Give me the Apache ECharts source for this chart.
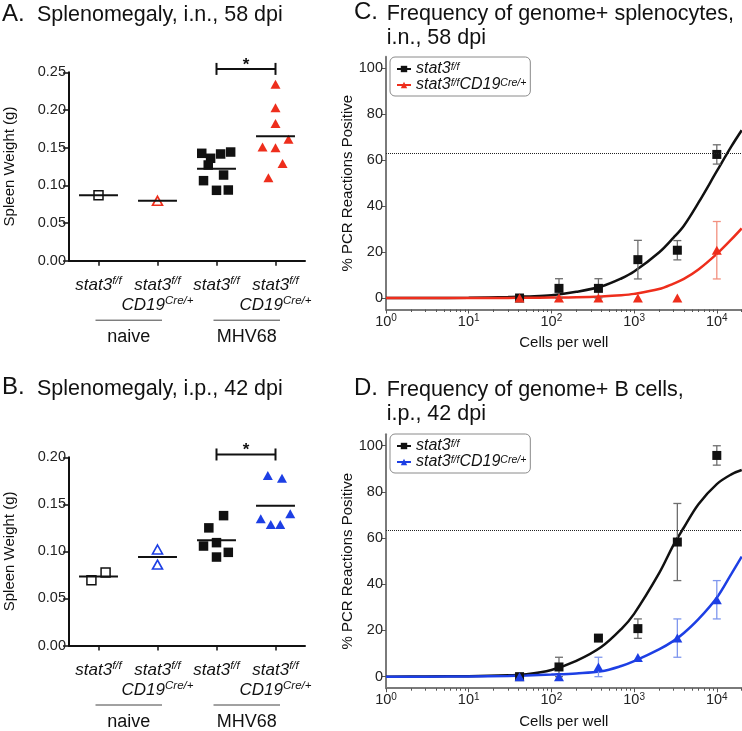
<!DOCTYPE html>
<html><head><meta charset="utf-8">
<script src="https://cdn.jsdelivr.net/npm/echarts@6/dist/echarts.min.js"></script>
<style>html,body{margin:0;padding:0;background:#fff}#c{width:742px;height:731px}</style>
</head><body><div id="c"></div>
<script>
const FONT = '"Liberation Sans", Arial, Helvetica, sans-serif';
const RED = '#ee2e1c', BLUE = '#1d3fe4', BLACK = '#111';
const RED_ERR = '#f2907f', BLUE_ERR = '#7f97ee', BLACK_ERR = '#6e6e6e';

// ---- Panels A / B (spleen weight) ----
const categories = ['stat3 f/f', 'stat3 f/f CD19 Cre/+', 'stat3 f/f', 'stat3 f/f CD19 Cre/+'];
const groupNames = ['naive', 'MHV68'];
const groupSpans = [[1, 2], [3, 4]];

const A_ffNaive = [0.087];            const A_ffNaiveOff = [0];
const A_creNaive = [0.0795];          const A_creNaiveOff = [0];
const A_ffMHV = [0.1425, 0.1442, 0.1359, 0.1416, 0.127, 0.1137, 0.1062, 0.0934, 0.0938];
const A_ffMHVOff = [-0.25, 0.24, -0.10, 0.07, -0.14, 0.12, -0.22, 0, 0.20];
const A_creMHV = [0.234, 0.203, 0.182, 0.151, 0.150, 0.161, 0.129, 0.110];
const A_creMHVOff = [0, 0, 0, -0.22, 0, 0.22, 0.12, -0.12];
const A_sig = [[3, 4, 0.2545]];

const B_ffNaive = [0.0694, 0.0775];   const B_ffNaiveOff = [-0.12, 0.12];
const B_creNaive = [0.102, 0.086];    const B_creNaiveOff = [0, 0];
const B_ffMHV = [0.138, 0.125, 0.1057, 0.1093, 0.099, 0.094];
const B_ffMHVOff = [0.12, -0.13, -0.22, 0, 0.20, 0];
const B_creMHV = [0.1806, 0.1778, 0.140, 0.1347, 0.1287, 0.1287];
const B_creMHVOff = [-0.13, 0.11, 0.25, -0.25, -0.08, 0.08];
const B_sig = [[3, 4, 0.203]];

// ---- Panels C / D (limiting dilution) ----
const cellsPerWell = [41.2, 123.5, 370.4, 1111.1, 3333.3, 10000];
const C_ff = [0, 4.2, 4.2, 16.7, 20.8, 62.5];   const C_ffErr = [0, 4.2, 4.2, 8.4, 4.2, 4.2];
const C_cre = [0, 0, 0, 0, 0, 20.8];            const C_creErr = [0, 0, 0, 0, 0, 12.5];
const D_ff = [0, 4.2, 16.7, 20.8, 58.3, 95.8];  const D_ffErr = [0, 4.2, 0, 4.2, 16.7, 4.2];
const D_cre = [0, 0, 4.2, 8.3, 16.7, 33.3];     const D_creErr = [0, 0, 4.2, 0, 8.3, 8.3];

const curveX =    [1, 3, 10, 30, 50, 100, 200, 400, 700, 1000, 2000, 3000, 4000, 6000, 10000, 15000, 20000];
const C_ffFit =   [0, 0, 0.1, 0.4, 0.7, 1.2, 2.7, 5.0, 8.5, 11.5, 19.8, 26.3, 31.5, 41.5, 55.2, 66.0, 73.0];
const C_creFit =  [0, 0, 0, 0.05, 0.1, 0.2, 0.35, 0.7, 1.2, 1.8, 3.9, 6.3, 8.3, 12.4, 19.2, 25.5, 30.3];
const D_ffFit =   [0, 0.1, 0.2, 0.6, 1.0, 2.9, 6.8, 12.8, 20.6, 27.2, 44.7, 57.1, 64.6, 74.7, 83.4, 87.6, 89.5];
const D_creFit =  [0, 0, 0.1, 0.3, 0.5, 0.9, 1.4, 2.3, 4.6, 6.7, 11.8, 15.5, 18.9, 24.9, 34.2, 44.5, 52.0];
const threshold = 63.2;

const yTicksPCR = [0, 20, 40, 60, 80, 100];
const decadeTicks = [0, 1, 2, 3, 4];
const minorTicks = [];
for (let d = 0; d <= 4; d++) for (let m = 2; m <= 9; m++) { const v = Math.pow(10, d) * m; if (v <= 20000) minorTicks.push(Math.log10(v)); }

// ---- helpers ----
function pts(cat, vals, offs) { return vals.map((v, i) => [cat + offs[i], v]); }
function mean(a) { return a.reduce((s, v) => s + v, 0) / a.length; }
function catLabel(v) {
  const c = categories[Math.round(v) - 1];
  return c.indexOf('CD19') >= 0 ? '{it|stat3}{sup|f/f}\n{it|CD19}{sup|Cre/+}' : '{it|stat3}{sup|f/f}';
}
const catRich = {
  it: { fontFamily: FONT, fontStyle: 'italic', fontSize: 17, lineHeight: 20, color: BLACK },
  sup: { fontFamily: FONT, fontStyle: 'italic', fontSize: 11.5, lineHeight: 12, verticalAlign: 'top', color: BLACK }
};
function errData(xs, m, e) {
  const out = [];
  xs.forEach((x, i) => { if (e[i] > 0) out.push([x, m[i] - e[i], m[i] + e[i]]); });
  return out;
}
function errRender(color) {
  return function (params, api) {
    const x = api.value(0);
    const pT = api.coord([x, api.value(2)]), pB = api.coord([x, api.value(1)]);
    const w = 4, st = { stroke: color, lineWidth: 1.3 };
    return { type: 'group', children: [
      { type: 'line', shape: { x1: pT[0], y1: pT[1], x2: pB[0], y2: pB[1] }, style: st },
      { type: 'line', shape: { x1: pT[0] - w, y1: pT[1], x2: pT[0] + w, y2: pT[1] }, style: st },
      { type: 'line', shape: { x1: pB[0] - w, y1: pB[1], x2: pB[0] + w, y2: pB[1] }, style: st }
    ] };
  };
}
function meanRender(params, api) {
  const c = api.value(0), m = api.value(1);
  const p1 = api.coord([c - 0.33, m]), p2 = api.coord([c + 0.33, m]);
  return { type: 'line', shape: { x1: p1[0], y1: p1[1], x2: p2[0], y2: p2[1] }, style: { stroke: BLACK, lineWidth: 2 } };
}
function sigRender(params, api) {
  const p1 = api.coord([api.value(0), api.value(2)]), p2 = api.coord([api.value(1), api.value(2)]);
  const st = { stroke: BLACK, lineWidth: 2 };
  return { type: 'group', children: [
    { type: 'line', shape: { x1: p1[0], y1: p1[1], x2: p2[0], y2: p2[1] }, style: st },
    { type: 'line', shape: { x1: p1[0], y1: p1[1] - 6, x2: p1[0], y2: p1[1] + 6 }, style: st },
    { type: 'line', shape: { x1: p2[0], y1: p2[1] - 6, x2: p2[0], y2: p2[1] + 6 }, style: st },
    { type: 'text', style: { text: '*', x: (p1[0] + p2[0]) / 2, y: p1[1] - 4, align: 'center', verticalAlign: 'middle', font: 'bold 17px ' + FONT, fill: BLACK } }
  ] };
}
function groupRender(params, api) {
  const p1 = api.coord([api.value(0), 0]), p2 = api.coord([api.value(1), 0]);
  const x1 = p1[0] - 3, x2 = p2[0] + 4.5, y = p1[1] + 59.5;
  return { type: 'group', children: [
    { type: 'line', shape: { x1: x1, y1: y, x2: x2, y2: y }, style: { stroke: '#444', lineWidth: 1 } },
    { type: 'text', style: { text: groupNames[params.dataIndex], x: (x1 + x2) / 2, y: y + 17, align: 'center', verticalAlign: 'middle', font: '18px ' + FONT, fill: BLACK } }
  ] };
}

function weightPanel(xi, yi, ffN, ffNo, crN, crNo, ffM, ffMo, crM, crMo, sig, col) {
  return [
    { type: 'scatter', xAxisIndex: xi, yAxisIndex: yi, symbol: 'rect', symbolSize: 9, data: pts(1, ffN, ffNo),
      itemStyle: { color: '#fff', borderColor: BLACK, borderWidth: 1.5, opacity: 1 }, z: 3 },
    { type: 'scatter', xAxisIndex: xi, yAxisIndex: yi, symbol: 'triangle', symbolSize: [10, 9], data: pts(2, crN, crNo),
      itemStyle: { color: '#fff', borderColor: col, borderWidth: 1.6, opacity: 1 }, z: 3 },
    { type: 'scatter', xAxisIndex: xi, yAxisIndex: yi, symbol: 'rect', symbolSize: 9.5, data: pts(3, ffM, ffMo),
      itemStyle: { color: BLACK, opacity: 1 }, z: 3 },
    { type: 'scatter', xAxisIndex: xi, yAxisIndex: yi, symbol: 'triangle', symbolSize: [10, 9], data: pts(4, crM, crMo),
      itemStyle: { color: col, opacity: 1 }, z: 3 },
    { type: 'custom', xAxisIndex: xi, yAxisIndex: yi, renderItem: meanRender, clip: false, z: 4,
      data: [[1, mean(ffN)], [2, mean(crN)], [3, mean(ffM)], [4, mean(crM)]] },
    { type: 'custom', xAxisIndex: xi, yAxisIndex: yi, renderItem: sigRender, clip: false, z: 4, data: sig },
    { type: 'custom', xAxisIndex: xi, yAxisIndex: yi, renderItem: groupRender, clip: false, z: 4, data: groupSpans }
  ];
}

function pcrPanel(xi, yi, ff, ffErr, cre, creErr, ffFit, creFit, col, colErr, nFF, nCre) {
  const xy = (xs, ys) => xs.map((x, i) => [x, ys[i]]);
  return [
    { type: 'line', name: nFF, xAxisIndex: xi, yAxisIndex: yi, data: xy(curveX, ffFit), smooth: 0.35,
      symbol: 'rect', showSymbol: false, lineStyle: { color: BLACK, width: 2.5 }, itemStyle: { color: BLACK }, z: 2,
      markLine: { silent: true, symbol: 'none', label: { show: false },
        lineStyle: { type: 'dotted', color: '#222', width: 1 }, data: [{ yAxis: threshold }] } },
    { type: 'line', name: nCre, xAxisIndex: xi, yAxisIndex: yi, data: xy(curveX, creFit), smooth: 0.35,
      symbol: 'triangle', showSymbol: false, lineStyle: { color: col, width: 2.5 }, itemStyle: { color: col }, z: 2 },
    { type: 'custom', xAxisIndex: xi, yAxisIndex: yi, renderItem: errRender(BLACK_ERR), data: errData(cellsPerWell, ff, ffErr), z: 3 },
    { type: 'custom', xAxisIndex: xi, yAxisIndex: yi, renderItem: errRender(colErr), data: errData(cellsPerWell, cre, creErr), z: 3 },
    { type: 'scatter', name: nFF, xAxisIndex: xi, yAxisIndex: yi, symbol: 'rect', symbolSize: 9, data: xy(cellsPerWell, ff),
      itemStyle: { color: BLACK, opacity: 1 }, z: 4, clip: false },
    { type: 'scatter', name: nCre, xAxisIndex: xi, yAxisIndex: yi, symbol: 'triangle', symbolSize: [10, 9], data: xy(cellsPerWell, cre),
      itemStyle: { color: col, opacity: 1 }, z: 5, clip: false }
  ];
}

const grids = [
  { left: 69, top: 72.3, width: 236, height: 188.4 },
  { left: 69, top: 457.3, width: 236, height: 188.2 },
  { left: 386, top: 56.8, width: 355.7, height: 252.7 },
  { left: 386, top: 434.2, width: 355.7, height: 254 }
];

function catXAxis(gi) {
  return { type: 'value', gridIndex: gi, min: 0.5, max: 4.5, splitLine: { show: false },
    axisLine: { lineStyle: { color: BLACK, width: 2 } },
    axisTick: { customValues: [1, 2, 3, 4], length: 5, lineStyle: { color: BLACK, width: 1.5 } },
    axisLabel: { customValues: [1, 2, 3, 4], formatter: catLabel, rich: catRich, margin: 14.5 } };
}
function weightYAxis(gi, max) {
  return { type: 'value', gridIndex: gi, min: 0, max: max, interval: 0.05,
    name: 'Spleen Weight (g)', nameLocation: 'middle', nameGap: 52,
    nameTextStyle: { fontFamily: FONT, fontSize: 15, color: BLACK },
    splitLine: { show: false },
    axisLine: { show: true, lineStyle: { color: BLACK, width: 2 } },
    axisTick: { show: true, length: 6, lineStyle: { color: BLACK, width: 1.5 } },
    axisLabel: { formatter: v => v.toFixed(2), fontFamily: FONT, fontSize: 14.5, color: '#222', margin: 3 } };
}
function logXAxes(gi) {
  const lg = Math.log10(20000);
  return [
    { type: 'log', logBase: 10, gridIndex: gi, min: 1, max: 20000, show: false },
    { type: 'value', gridIndex: gi, min: 0, max: lg, position: 'bottom', splitLine: { show: false },
      name: 'Cells per well', nameLocation: 'middle', nameGap: 26,
      nameTextStyle: { fontFamily: FONT, fontSize: 15, color: BLACK },
      axisLine: { lineStyle: { color: '#7a7a7a', width: 2 } },
      axisTick: { customValues: decadeTicks, length: 4, lineStyle: { color: '#555', width: 1 } },
      axisLabel: { customValues: decadeTicks, margin: 4, formatter: v => '{b|10}{s|' + Math.round(v) + '}',
        rich: { b: { fontFamily: FONT, fontSize: 14.5, lineHeight: 16, color: '#222' },
                s: { fontFamily: FONT, fontSize: 10, lineHeight: 10, verticalAlign: 'top', color: '#222' } } } },
    { type: 'value', gridIndex: gi, min: 0, max: lg, position: 'bottom', splitLine: { show: false },
      axisLine: { show: false }, axisLabel: { show: false },
      axisTick: { customValues: minorTicks, length: 2.5, lineStyle: { color: '#555', width: 1 } } }
  ];
}
function pcrYAxis(gi) {
  return { type: 'value', gridIndex: gi, min: -5, max: 105,
    name: '% PCR Reactions Positive', nameLocation: 'middle', nameGap: 31,
    nameTextStyle: { fontFamily: FONT, fontSize: 15, color: BLACK },
    splitLine: { show: false },
    axisLine: { show: true, lineStyle: { color: '#7a7a7a', width: 2 } },
    axisTick: { show: true, customValues: yTicksPCR, length: 4, lineStyle: { color: '#555', width: 1 } },
    axisLabel: { customValues: yTicksPCR, fontFamily: FONT, fontSize: 14.5, color: '#222', margin: 3 } };
}

const legRich = {
  it: { fontFamily: FONT, fontStyle: 'italic', fontSize: 16, lineHeight: 15, color: BLACK },
  sup: { fontFamily: FONT, fontStyle: 'italic', fontSize: 10.5, lineHeight: 10, verticalAlign: 'top', color: BLACK }
};
function legFmt(name) {
  return name.indexOf('cre') >= 0 ? '{it|stat3}{sup|f/f}{it|CD19}{sup|Cre/+}' : '{it|stat3}{sup|f/f}';
}
function legend(top, names) {
  return { left: 390, top: top, orient: 'vertical', data: names, itemGap: 0, itemWidth: 14, itemHeight: 8,
    padding: [4, 4, 3, 6], borderColor: '#8a8a8a', borderWidth: 1, borderRadius: 5, backgroundColor: '#fff',
    formatter: legFmt, textStyle: { rich: legRich }, selectedMode: false };
}

function titleText(x, y, text, size, align) {
  return { type: 'text', x: x, y: y, style: { text: text, font: size + 'px ' + FONT, fill: BLACK,
    align: align || 'left', verticalAlign: 'middle' } };
}

const option = {
  animation: false,
  backgroundColor: '#fff',
  grid: grids,
  xAxis: [catXAxis(0), catXAxis(1)].concat(logXAxes(2), logXAxes(3)),
  yAxis: [weightYAxis(0, 0.25), weightYAxis(1, 0.20), pcrYAxis(2), pcrYAxis(3)],
  legend: [legend(57, ['C_ff', 'C_cre']), legend(434, ['D_ff', 'D_cre'])],
  graphic: [
    titleText(2, 14, 'A.', 24), titleText(37, 14.6, 'Splenomegaly, i.n., 58 dpi', 21.5),
    titleText(2, 387.6, 'B.', 24), titleText(37, 388.7, 'Splenomegaly, i.p., 42 dpi', 21.5),
    titleText(378, 12.6, 'C.', 24, 'right'), titleText(386.7, 13.7, 'Frequency of genome+ splenocytes,', 21.5),
    titleText(386.7, 37.7, 'i.n., 58 dpi', 21.5),
    titleText(378, 388.6, 'D.', 24, 'right'), titleText(386.7, 389.7, 'Frequency of genome+ B cells,', 21.5),
    titleText(386.7, 414.4, 'i.p., 42 dpi', 21.5)
  ],
  series: [].concat(
    weightPanel(0, 0, A_ffNaive, A_ffNaiveOff, A_creNaive, A_creNaiveOff, A_ffMHV, A_ffMHVOff, A_creMHV, A_creMHVOff, A_sig, RED),
    weightPanel(1, 1, B_ffNaive, B_ffNaiveOff, B_creNaive, B_creNaiveOff, B_ffMHV, B_ffMHVOff, B_creMHV, B_creMHVOff, B_sig, BLUE),
    pcrPanel(2, 2, C_ff, C_ffErr, C_cre, C_creErr, C_ffFit, C_creFit, RED, RED_ERR, 'C_ff', 'C_cre'),
    pcrPanel(5, 3, D_ff, D_ffErr, D_cre, D_creErr, D_ffFit, D_creFit, BLUE, BLUE_ERR, 'D_ff', 'D_cre')
  )
};

const chart = echarts.init(document.getElementById('c'));
chart.setOption(option);
</script>
</body></html>
